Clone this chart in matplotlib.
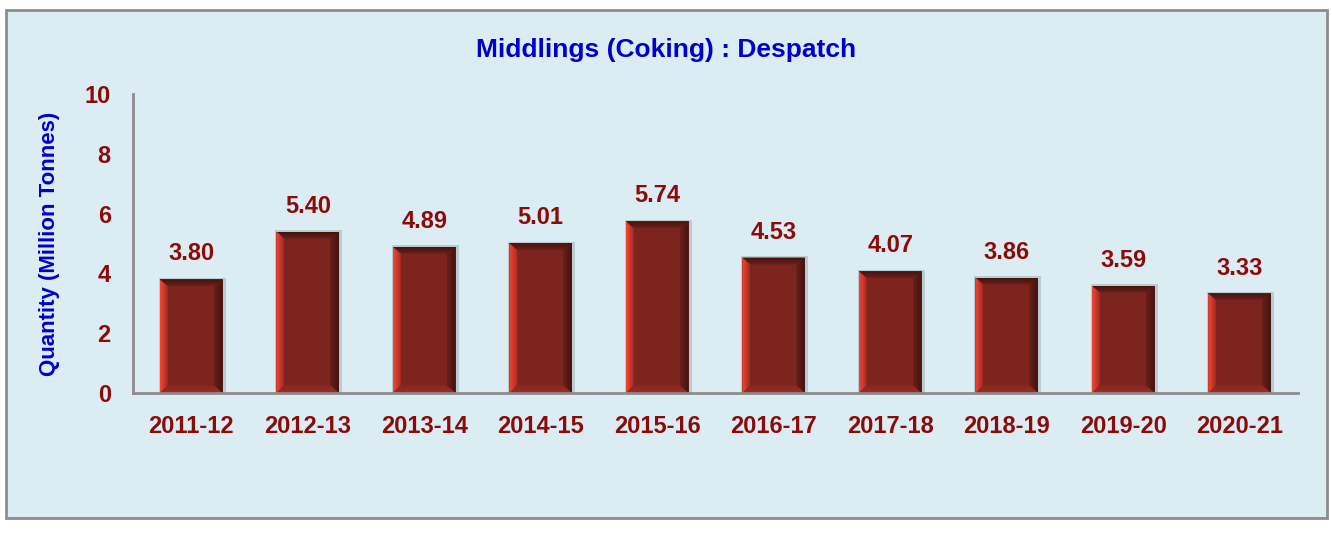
#!/usr/bin/env python3
"""Middlings (Coking) despatch bar chart."""

import matplotlib
matplotlib.use("Agg")
import matplotlib.pyplot as plt
import numpy as np
from matplotlib.colors import to_rgb
from matplotlib.patches import Polygon, Rectangle

years = ["2011-12", "2012-13", "2013-14", "2014-15", "2015-16",
         "2016-17", "2017-18", "2018-19", "2019-20", "2020-21"]
despatch = [3.80, 5.40, 4.89, 5.01, 5.74, 4.53, 4.07, 3.86, 3.59, 3.33]

FONT = ["Liberation Sans Narrow", "Liberation Sans", "DejaVu Sans"]
plt.rcParams["font.family"] = FONT
plt.rcParams["font.weight"] = "bold"

BG = "#DBEDF3"
DARKRED = "#8B0A0A"
BLUE = "#0000CC"
FACE = "#7E241F"

fig = plt.figure(figsize=(13.32, 5.37), dpi=100)
fig.patch.set_facecolor("white")

# outer panel
W, H = 1332, 537
fig.patches.append(Rectangle((6 / W, 1 - 518 / H), (1327 - 6) / W, (518 - 10) / H,
                             transform=fig.transFigure, facecolor=BG,
                             edgecolor="#8C8C8C", linewidth=2, zorder=-5))

ax = fig.add_axes([133 / W, 1 - 393 / H, (1298 - 133) / W, (393 - 94) / H])
ax.set_facecolor("none")
ax.set_zorder(2)

x = range(len(years))
width = 0.54
bars = ax.bar(x, despatch, width=width, color=FACE, zorder=3)

XLIM = (-0.5, len(years) - 0.5)
YLIM = (0, 10)

# pixel size in data units
px_x = len(years) / (1298 - 133)
px_y = 10 / (393 - 94)
bx_l, bx_r = 8 * px_x, 9 * px_x
by_t, by_b = 7 * px_y, 8 * px_y


def grad_poly(pts, c0, c1, horizontal):
    """Fill polygon with a linear gradient from c0 to c1 (left->right or bottom->top)."""
    poly = Polygon(pts, closed=True, facecolor="none", linewidth=0, zorder=4)
    ax.add_patch(poly)
    xs = [p[0] for p in pts]
    ys = [p[1] for p in pts]
    t = np.linspace(0, 1, 32)
    cols = np.outer(1 - t, to_rgb(c0)) + np.outer(t, to_rgb(c1))
    img = cols[None, :, :] if horizontal else cols[::-1, None, :]
    im = ax.imshow(img, extent=(min(xs), max(xs), min(ys), max(ys)), aspect="auto",
                   interpolation="bilinear", zorder=4)
    im.set_clip_path(poly)


for b in bars:
    x0, x1 = b.get_x(), b.get_x() + b.get_width()
    y0, y1 = 0, b.get_height()
    # soft shadow
    ax.add_patch(Rectangle((x0 - 1 * px_x, y0), (x1 - x0) + 4 * px_x, y1 + 1.5 * px_y,
                           facecolor="#6f7f86", alpha=0.3, linewidth=0, zorder=2))
    top = [(x0, y1), (x1, y1), (x1 - bx_r, y1 - by_t), (x0 + bx_l, y1 - by_t)]
    bot = [(x0, y0), (x1, y0), (x1 - bx_r, y0 + by_b), (x0 + bx_l, y0 + by_b)]
    left = [(x0, y0), (x0, y1), (x0 + bx_l, y1 - by_t), (x0 + bx_l, y0 + by_b)]
    right = [(x1, y0), (x1, y1), (x1 - bx_r, y1 - by_t), (x1 - bx_r, y0 + by_b)]
    grad_poly(bot, "#A02C24", "#86261F", horizontal=False)
    grad_poly(top, "#6E201B", "#43130F", horizontal=False)
    grad_poly(left, "#F24733", "#A22B23", horizontal=True)
    grad_poly(right, "#6A1E19", "#431410", horizontal=True)

ax.set_xlim(*XLIM)
ax.set_ylim(*YLIM)

for xi, v in zip(x, despatch):
    ax.annotate(f"{v:.2f}", xy=(xi, v), xytext=(0, 10), textcoords="offset points",
                ha="center", va="bottom", fontsize=17, fontweight="bold", color=DARKRED)

ax.set_xticks(list(x))
ax.set_xticklabels(years)
ax.set_yticks(range(0, 11, 2))
ax.tick_params(axis="both", length=0, labelsize=17, labelcolor=DARKRED)
ax.tick_params(axis="x", pad=16)
ax.tick_params(axis="y", pad=16)
for lab in ax.get_xticklabels() + ax.get_yticklabels():
    lab.set_fontweight("bold")

for side in ("top", "right"):
    ax.spines[side].set_visible(False)
for side in ("left", "bottom"):
    ax.spines[side].set_color("#8C8C8C")
    ax.spines[side].set_linewidth(2)
    ax.spines[side].set_zorder(5)

ax.set_ylabel("Quantity (Million Tonnes)", fontsize=16, fontweight="bold", color=BLUE,
              labelpad=18)
fig.text(666 / W, 1 - 50 / H, "Middlings (Coking) : Despatch", ha="center", va="center",
         fontsize=19, fontweight="bold", color=BLUE)

fig.savefig("out.png", dpi=100, facecolor=fig.get_facecolor())
